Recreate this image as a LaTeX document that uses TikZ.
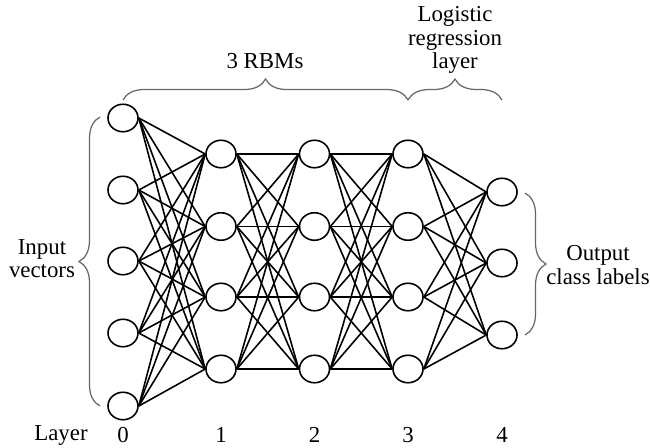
\documentclass[tikz,border=0pt]{standalone}
\usepackage{fontspec}
\setmainfont{Liberation Serif}
\usepackage{tikz}
\usetikzlibrary{shapes.geometric}
\usetikzlibrary{decorations.pathreplacing}

\begin{document}
\begin{tikzpicture}
\tikzstyle{unit}=[ellipse, draw, fill=white, line width=0.9pt, minimum width=0.6cm, minimum height=0.55cm, inner sep=0pt]
\tikzstyle{link}=[line width=0.9pt]
\tikzstyle{grp}=[draw=black!60, line width=0.7pt, decorate, decoration={brace, amplitude=0.42cm}]
\tikzstyle{lbl}=[font=\fontsize{13}{13.2}\selectfont, align=center]

\useasboundingbox (0,0) rectangle (13,-8.94);

% input layer
 \node[unit] (a1) at (2.46,-2.36) {};
 \node[unit] (a2) at (2.46,-3.80) {};
 \node[unit] (a3) at (2.46,-5.22) {};
 \node[unit] (a4) at (2.46,-6.66) {};
 \node[unit] (a5) at (2.46,-8.12) {};

% hidden layers
 \node[unit] (b1) at (4.42,-3.08) {};
 \node[unit] (b2) at (4.42,-4.53) {};
 \node[unit] (b3) at (4.42,-5.94) {};
 \node[unit] (b4) at (4.42,-7.38) {};

 \node[unit] (c1) at (6.29,-3.08) {};
 \node[unit] (c2) at (6.29,-4.53) {};
 \node[unit] (c3) at (6.29,-5.94) {};
 \node[unit] (c4) at (6.29,-7.38) {};

 \node[unit] (d1) at (8.16,-3.08) {};
 \node[unit] (d2) at (8.16,-4.53) {};
 \node[unit] (d3) at (8.16,-5.94) {};
 \node[unit] (d4) at (8.16,-7.38) {};

% output layer
 \node[unit] (e1) at (10.04,-3.84) {};
 \node[unit] (e2) at (10.04,-5.26) {};
 \node[unit] (e3) at (10.04,-6.70) {};

% connections
\foreach \i in {1,...,5}
  \foreach \j in {1,...,4}
    \draw[link] (a\i.east) -- (b\j.west);
\foreach \i in {1,...,4}
  \foreach \j in {1,...,4} {
    \draw[link] (b\i.east) -- (c\j.west);
    \draw[link] (c\i.east) -- (d\j.west);
  }
\foreach \i in {1,...,4}
  \foreach \j in {1,...,3}
    \draw[link] (d\i.east) -- (e\j.west);

% braces
\coordinate (t0) at (2.46,-2.0);
\coordinate (t3) at (8.16,-2.0);
\coordinate (t4) at (10.04,-2.0);
\draw[grp] (t0) -- (t3);
\draw[grp] (t3) -- (t4);
\coordinate (l1) at (2.0,-8.12);
\coordinate (l2) at (2.0,-2.34);
\draw[grp] (l1) -- (l2);
\coordinate (r1) at (10.5,-3.86);
\coordinate (r2) at (10.5,-6.70);
\draw[grp] (r1) -- (r2);

% labels
\node[lbl] (rbm) at (5.30,-1.22) {3 RBMs};
\node[lbl] (logit) at (9.10,-0.80) {Logistic\\regression\\layer};
\node[lbl] (inp) at (0.84,-5.18) {Input\\vectors};
\node[lbl] (outp) at (11.96,-5.30) {Output\\class labels};

\node[lbl] (layer) at (1.22,-8.70) {Layer};
\node[lbl] (n0) at (2.46,-8.70) {0};
\node[lbl] (n1) at (4.42,-8.70) {1};
\node[lbl] (n2) at (6.29,-8.70) {2};
\node[lbl] (n3) at (8.16,-8.70) {3};
\node[lbl] (n4) at (10.04,-8.70) {4};

\end{tikzpicture}
\end{document}
